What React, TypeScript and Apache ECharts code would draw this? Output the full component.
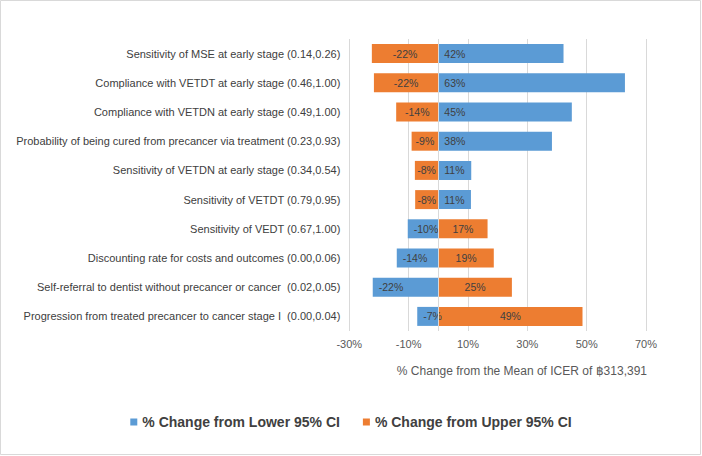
import React, { useEffect, useRef } from "react";
import * as echarts from "echarts";

const categories = [
  "Sensitivity of MSE at early stage (0.14,0.26)",
  "Compliance with VETDT at early stage (0.46,1.00)",
  "Compliance with VETDN at early stage (0.49,1.00)",
  "Probability of being cured from precancer via treatment (0.23,0.93)",
  "Sensitivity of VETDN at early stage (0.34,0.54)",
  "Sensitivity of VETDT (0.79,0.95)",
  "Sensitivity of VEDT (0.67,1.00)",
  "Discounting rate for costs and outcomes (0.00,0.06)",
  "Self-referral to dentist without precancer or cancer  (0.02,0.05)",
  "Progression from treated precancer to cancer stage I  (0.00,0.04)",
];

const lowerChange = [42.2, 62.9, 45.0, 38.3, 11.1, 11.0, -10.3, -14.0, -22.1, -7.1];
const upperChange = [-22.4, -21.7, -14.2, -9.0, -7.9, -7.8, 16.6, 18.7, 24.8, 48.6];

const xTickValues = [-30, -10, 10, 30, 50, 70];
const seriesNames = ["% Change from Lower 95% CI", "% Change from Upper 95% CI"];
const axisTitle = "% Change from the Mean of ICER of \u0E3F313,391";

const FONT = '"Liberation Sans", Arial, sans-serif';

export default function App() {
  const ref = useRef<HTMLDivElement>(null);
  useEffect(() => {
    document.body.style.margin = "0";
    const chart = echarts.init(ref.current!, null, { renderer: "svg" });
    const pct = (p: any) => `${Math.round(p.value)}%`;
    chart.setOption({
      animation: false,
      backgroundColor: "#ffffff",
      textStyle: { fontFamily: FONT },
      grid: { left: 349.3, right: 56, top: 39, bottom: 125 },
      xAxis: {
        type: "value",
        min: xTickValues[0],
        max: xTickValues[xTickValues.length - 1],
        axisLine: { show: false },
        axisTick: { show: false, customValues: xTickValues },
        splitLine: { show: true, lineStyle: { color: "#d9d9d9", width: 1 } },
        axisLabel: {
          customValues: xTickValues,
          formatter: (v: number) => `${v}%`,
          color: "#595959",
          fontSize: 11,
          margin: 7,
          fontFamily: FONT,
        },
      },
      yAxis: {
        type: "category",
        data: categories,
        inverse: true,
        axisLine: { show: false },
        axisTick: { show: false },
        splitLine: { show: false },
        axisLabel: { color: "#404040", fontSize: 11, margin: 9, fontFamily: FONT },
      },
      legend: {
        data: seriesNames,
        left: "center",
        top: 410,
        icon: "rect",
        itemWidth: 7,
        itemHeight: 7,
        itemGap: 23,
        textStyle: { fontSize: 14, fontWeight: "bold", color: "#404040", fontFamily: FONT },
      },
      series: [
        {
          name: seriesNames[0],
          type: "bar",
          stack: "total",
          data: lowerChange,
          barWidth: 19,
          itemStyle: { color: "#5B9BD5" },
          label: {
            show: true,
            position: "insideLeft",
            distance: 6,
            formatter: pct,
            color: "#404040",
            fontSize: 10.5,
            fontFamily: FONT,
          },
          markLine: {
            silent: true,
            symbol: "none",
            data: [{ xAxis: 0 }],
            lineStyle: { color: "#d9d9d9", type: "solid", width: 1 },
            label: { show: false },
          },
        },
        {
          name: seriesNames[1],
          type: "bar",
          stack: "total",
          data: upperChange,
          barWidth: 19,
          itemStyle: { color: "#ED7D31" },
          label: {
            show: true,
            position: "inside",
            formatter: pct,
            color: "#404040",
            fontSize: 10.5,
            fontFamily: FONT,
          },
        },
      ],
      graphic: [
        {
          type: "rect",
          shape: { x: 0.5, y: 0.5, width: 700, height: 454 },
          style: { fill: "none", stroke: "#d9d9d9", lineWidth: 1 },
          silent: true,
        },
        {
          type: "text",
          right: 55,
          top: 365,
          style: { text: axisTitle, font: `12px ${FONT}`, fill: "#595959" },
        },
      ],
    });
    return () => chart.dispose();
  }, []);
  return (
    <div
      ref={ref}
      style={{ position: "absolute", left: 0, top: 0, width: 702, height: 456 }}
    />
  );
}
